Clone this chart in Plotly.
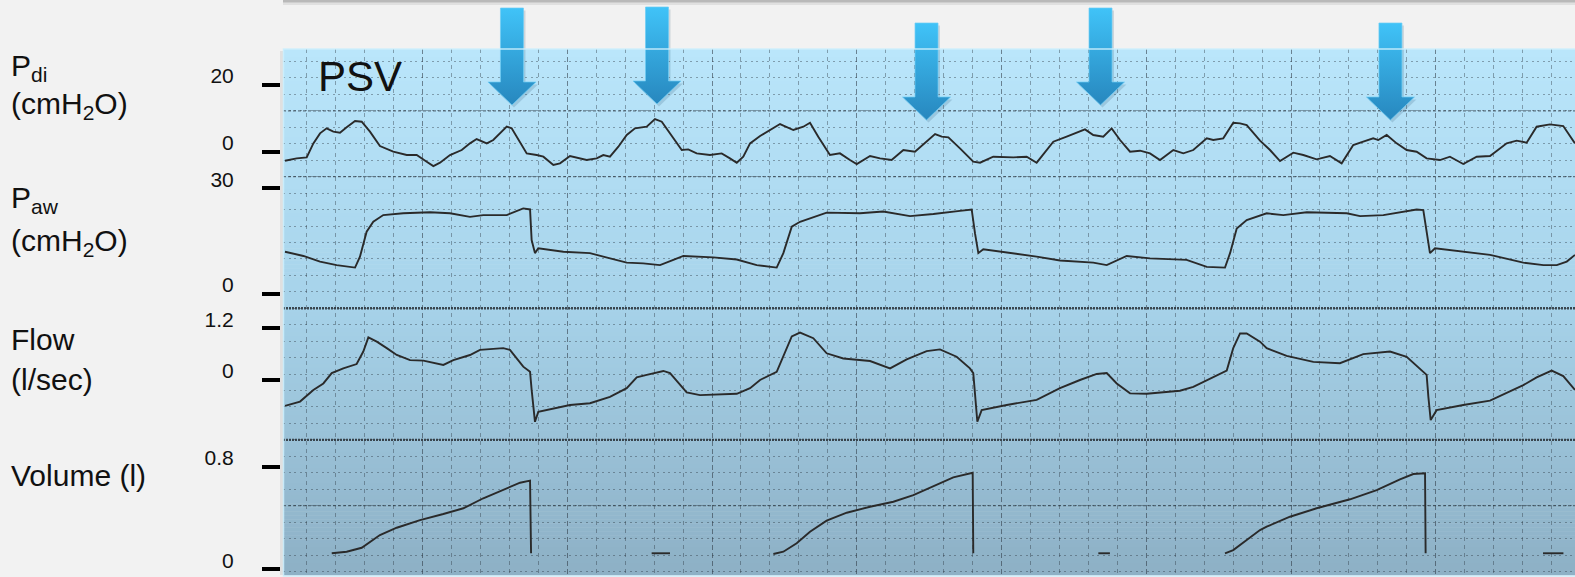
import plotly.graph_objects as go

W, H = 1575, 577

# ---------------- recorded waveforms (time in s) ----------------
pdi_t = [0.050, 0.131, 0.200, 0.246, 0.292, 0.338, 0.384, 0.430, 0.476, 0.534,
         0.580, 0.637, 0.706, 0.798, 0.891, 0.960, 1.029, 1.075, 1.121, 1.190,
         1.271, 1.328, 1.374, 1.444, 1.489, 1.535, 1.582, 1.616, 1.662, 1.720,
         1.789, 1.835, 1.904, 1.950, 2.019, 2.065, 2.134, 2.203, 2.249, 2.295,
         2.353, 2.411, 2.468, 2.549, 2.606, 2.653, 2.710, 2.791, 2.836, 2.894,
         2.986, 3.067, 3.124, 3.171, 3.216, 3.263, 3.332, 3.401, 3.470, 3.562,
         3.631, 3.677, 3.734, 3.815, 3.884, 3.953, 4.000, 4.092, 4.161, 4.241,
         4.322, 4.402, 4.483, 4.541, 4.587, 4.633, 4.713, 4.805, 4.852, 4.943,
         5.082, 5.174, 5.243, 5.312, 5.358, 5.450, 5.542, 5.577, 5.634, 5.703,
         5.761, 5.819, 5.888, 5.957, 6.026, 6.095, 6.187, 6.256, 6.325, 6.418,
         6.463, 6.532, 6.601, 6.648, 6.694, 6.786, 6.855, 6.924, 7.016, 7.085,
         7.177, 7.269, 7.350, 7.430, 7.499, 7.568, 7.603, 7.661, 7.730, 7.799,
         7.868, 7.937, 8.029, 8.098, 8.190, 8.283, 8.375, 8.490, 8.559, 8.628,
         8.697, 8.789, 8.881, 8.962]
pdi_v = [-2.7, -2.0, -1.7, 2.5, 5.5, 7.0, 6.0, 5.7, 7.3, 9.2,
         9.0, 6.0, 1.7, 0.0, -1.0, -1.0, -3.0, -4.3, -3.3, -1.0,
         0.5, 2.5, 3.8, 2.5, 3.5, 5.5, 7.5, 7.0, 3.5, -0.5,
         -1.0, -1.5, -4.0, -3.5, -1.3, -1.7, -2.5, -2.0, -1.0, -1.5,
         1.5, 5.0, 7.0, 7.5, 9.8, 9.0, 5.5, 0.5, 0.7, -0.5,
         -1.0, -0.5, -2.0, -3.3, -1.5, 2.5, 4.7, 6.5, 8.3, 6.5,
         7.5, 8.7, 4.5, -1.0, -0.5, -2.5, -3.7, -1.3, -2.0, -2.5,
         0.5, 0.0, 3.0, 5.3, 4.5, 4.3, 1.0, -3.0, -3.3, -1.5,
         -1.7, -1.5, -3.3, 0.5, 3.0, 4.5, 6.0, 6.7, 5.0, 4.5,
         7.0, 3.5, 0.0, 0.3, -0.5, -2.5, 0.5, -0.5, 0.5, 4.0,
         3.5, 4.0, 8.7, 8.5, 8.0, 3.3, 0.5, -2.8, -0.3, -1.0,
         -2.3, -1.3, -3.5, 2.0, 3.0, 4.0, 3.5, 5.0, 2.5, 0.5,
         0.0, -2.0, -2.5, -1.5, -3.7, -1.5, -1.3, 2.5, 3.3, 2.7,
         7.5, 8.2, 7.7, 2.5]

paw_t = [0.050, 0.177, 0.292, 0.407, 0.534, 0.568, 0.614, 0.660, 0.729, 0.867,
         1.052, 1.190, 1.328, 1.420, 1.582, 1.696, 1.743, 1.754, 1.777, 1.800,
         1.973, 2.157, 2.249, 2.411, 2.525, 2.641, 2.733, 2.802, 3.009, 3.171,
         3.309, 3.401, 3.447, 3.493, 3.551, 3.608, 3.792, 4.022, 4.183, 4.368,
         4.529, 4.713, 4.794, 4.817, 4.840, 4.874, 5.059, 5.243, 5.404, 5.634,
         5.727, 5.865, 6.026, 6.279, 6.418, 6.544, 6.579, 6.625, 6.694, 6.832,
         6.947, 7.109, 7.385, 7.477, 7.638, 7.799, 7.868, 7.914, 7.937, 7.960,
         7.995, 8.190, 8.375, 8.605, 8.744, 8.836, 8.905, 8.962]
paw_v = [12.0, 10.8, 9.2, 8.2, 7.5, 10.6, 17.7, 20.5, 22.4, 22.9,
         23.2, 22.9, 21.9, 22.4, 22.4, 24.3, 24.0, 15.3, 11.6, 13.0,
         12.0, 11.6, 10.6, 8.9, 8.7, 8.2, 9.7, 10.8, 10.4, 9.8,
         8.2, 7.7, 7.5, 11.6, 19.1, 20.5, 23.1, 22.9, 23.4, 22.1,
         22.7, 23.6, 24.0, 17.2, 11.6, 12.7, 11.7, 10.6, 9.5, 8.9,
         8.2, 10.8, 10.1, 9.7, 7.7, 7.5, 11.6, 18.6, 21.0, 22.9,
         22.4, 23.2, 22.9, 22.1, 22.4, 23.4, 24.0, 23.8, 17.2, 11.6,
         13.0, 12.0, 11.1, 8.9, 8.2, 8.2, 9.2, 11.1]

flow_t = [0.050, 0.154, 0.246, 0.315, 0.373, 0.453, 0.545, 0.591, 0.626, 0.684,
          0.753, 0.822, 0.914, 1.006, 1.144, 1.213, 1.328, 1.397, 1.558, 1.604,
          1.696, 1.743, 1.754, 1.777, 1.800, 1.904, 2.019, 2.157, 2.295, 2.411,
          2.480, 2.549, 2.664, 2.710, 2.825, 2.917, 3.171, 3.263, 3.332, 3.447,
          3.493, 3.551, 3.608, 3.700, 3.792, 3.907, 4.092, 4.230, 4.345, 4.483,
          4.575, 4.690, 4.782, 4.805, 4.833, 4.863, 5.036, 5.243, 5.404, 5.542,
          5.658, 5.727, 5.796, 5.888, 6.003, 6.233, 6.325, 6.463, 6.556, 6.601,
          6.648, 6.694, 6.786, 6.832, 6.970, 7.154, 7.338, 7.499, 7.684, 7.799,
          7.891, 7.937, 7.949, 7.965, 8.006, 8.190, 8.375, 8.605, 8.697, 8.801,
          8.881, 8.962]
flow_v = [-0.60, -0.50, -0.23, -0.08, 0.16, 0.27, 0.37, 0.66, 0.99, 0.89,
          0.74, 0.58, 0.46, 0.45, 0.35, 0.46, 0.58, 0.70, 0.74, 0.70,
          0.31, 0.19, -0.23, -0.97, -0.74, -0.66, -0.58, -0.54, -0.39, -0.19,
          0.06, 0.12, 0.21, 0.16, -0.29, -0.35, -0.32, -0.19, 0.00, 0.19,
          0.54, 1.01, 1.10, 0.97, 0.62, 0.50, 0.44, 0.27, 0.48, 0.67,
          0.71, 0.54, 0.27, 0.16, -0.97, -0.70, -0.58, -0.46, -0.19, 0.00,
          0.14, 0.16, -0.08, -0.31, -0.32, -0.25, -0.16, 0.06, 0.22, 0.74,
          1.08, 1.08, 0.89, 0.74, 0.56, 0.42, 0.39, 0.60, 0.66, 0.54,
          0.27, 0.12, -0.39, -0.93, -0.70, -0.58, -0.48, -0.12, 0.06, 0.22,
          0.09, -0.23]

# volume: three inspiratory ramps plus the short marks between breaths
vol_t = [0.373, 0.476, 0.580, 0.706, 0.822, 0.983, 1.144, 1.282, 1.420, 1.582,
         1.674, 1.743, 1.750, None, 2.583, 2.710, None,
         3.424, 3.493, 3.585, 3.677, 3.792, 3.931, 4.092, 4.253, 4.391, 4.529,
         4.667, 4.801, 4.805, None, 5.669, 5.749, None,
         6.544, 6.601, 6.694, 6.786, 6.832, 6.993, 7.177, 7.408, 7.592, 7.753,
         7.845, 7.926, 7.930, None, 8.741, 8.882]
vol_v = [0.125, 0.137, 0.168, 0.267, 0.324, 0.384, 0.431, 0.476, 0.554, 0.632,
         0.675, 0.691, 0.125, None, 0.125, 0.125, None,
         0.119, 0.137, 0.203, 0.293, 0.379, 0.441, 0.488, 0.527, 0.579, 0.650,
         0.717, 0.753, 0.125, None, 0.125, 0.125, None,
         0.125, 0.150, 0.228, 0.306, 0.332, 0.410, 0.476, 0.546, 0.618, 0.702,
         0.743, 0.749, 0.125, None, 0.125, 0.125]

# axis ticks per channel
pdi_ticks = [0, 20]
paw_ticks = [0, 30]
flow_ticks = [0, 1.2]
vol_ticks = [0, 0.8]
flow_ticktext = ["0", "1.2"]
vol_ticktext = ["0", "0.8"]

# arrows marking diaphragm efforts (time, tip height in px from top)
arrow_t = [1.618, 2.620, 4.482, 5.684, 7.687]
arrow_tip = [105, 104, 120, 105, 120]

# ---------------- geometry ----------------
PX_PER_S = 144.75
T_ORIGIN_PX = 277.75          # pixel column of t = 0
PANEL_L, PANEL_T, PANEL_B = 283, 49, 575
AXIS_PX = 280


def t_at(px):
    return (px - T_ORIGIN_PX) / PX_PER_S


def py(p):                     # pixel row -> paper fraction
    return 1 - p / H


def channel_range(v_a, p_a, v_b, p_b):
    scale = (p_a - p_b) / (v_b - v_a)
    return [v_a + (p_a - PANEL_B) / scale, v_a + (p_a - PANEL_T) / scale]


FONT = "Liberation Sans, Arial, Helvetica, sans-serif"
LINE = dict(color="#2a2a2a", width=1.9)

fig = go.Figure()

# arrows + shadow strip live on a full-canvas overlay (x2 / y6)
for t, tip in zip(arrow_t, arrow_tip):
    top = tip - 97
    shoulder = tip - 23
    hs, hh = 11.5 / PX_PER_S, 24 / PX_PER_S
    xs = [t - hs, t + hs, t + hs, t + hh, t, t - hh, t - hs, t - hs]
    ys = [top, top, shoulder, shoulder, tip, shoulder, shoulder, top]
    off = 2 / PX_PER_S
    fig.add_trace(go.Scatter(x=[x + off for x in xs], y=[y + 2.5 for y in ys],
                             fill="toself", fillcolor="rgba(20,60,95,0.16)",
                             mode="lines", line=dict(width=0),
                             xaxis="x2", yaxis="y6", hoverinfo="skip",
                             showlegend=False))
    fig.add_trace(go.Scatter(x=xs, y=ys, fill="toself",
                             fillgradient=dict(type="vertical",
                                               colorscale=[[0, "#40c3f8"], [1, "#2787be"]],
                                               start=top, stop=tip),
                             mode="lines", line=dict(width=1, color="rgba(110,205,245,0.7)"),
                             xaxis="x2", yaxis="y6", hoverinfo="skip",
                             showlegend=False))

# waveforms
fig.add_trace(go.Scatter(x=pdi_t, y=pdi_v, mode="lines", line=LINE,
                         xaxis="x", yaxis="y2", showlegend=False))
fig.add_trace(go.Scatter(x=paw_t, y=paw_v, mode="lines", line=LINE,
                         xaxis="x", yaxis="y3", showlegend=False))
fig.add_trace(go.Scatter(x=flow_t, y=flow_v, mode="lines", line=LINE,
                         xaxis="x", yaxis="y4", showlegend=False))
fig.add_trace(go.Scatter(x=vol_t, y=vol_v, mode="lines", line=LINE,
                         connectgaps=False, xaxis="x", yaxis="y5", showlegend=False))

shapes = []

# panel background: vertical gradient, light cyan to grey blue
stops = [(49, (186, 230, 251)), (300, (167, 211, 234)), (575, (141, 176, 197))]
n_bands = 132
band = (PANEL_B - PANEL_T) / n_bands
for i in range(n_bands):
    y0 = PANEL_T + i * band
    yc = y0 + band / 2
    for (pa, ca), (pb, cb) in zip(stops[:-1], stops[1:]):
        if pa <= yc <= pb:
            f = (yc - pa) / (pb - pa)
            c = tuple(round(ca[k] + (cb[k] - ca[k]) * f) for k in range(3))
            break
    shapes.append(dict(type="rect", xref="paper", yref="paper", layer="below",
                       x0=PANEL_L / W, x1=1, y0=py(y0 + band + 0.6), y1=py(y0),
                       fillcolor="rgb(%d,%d,%d)" % c, line=dict(width=0)))

# panel drop shadow on the left and light rim
shapes.append(dict(type="line", xref="paper", yref="paper", layer="below",
                   x0=(PANEL_L - 1.5) / W, x1=(PANEL_L - 1.5) / W,
                   y0=py(PANEL_B), y1=py(PANEL_T + 2),
                   line=dict(color="rgba(0,0,0,0.07)", width=3)))
shapes.append(dict(type="rect", xref="paper", yref="paper", layer="above",
                   x0=(PANEL_L + 0.5) / W, x1=1.01, y0=py(PANEL_B + 1), y1=py(PANEL_T),
                   line=dict(color="rgba(205,238,252,0.9)", width=1.5)))

# heavier channel separators
separators = [
    (110.85, "rgba(40,50,60,0.62)", 1.4, "3px,2px"),
    (176.65, "rgba(40,50,60,0.62)", 1.4, "3px,2px"),
    (308.25, "rgba(35,42,48,0.82)", 2.4, "2px,1px"),
    (439.85, "rgba(35,42,48,0.82)", 2.4, "2px,1px"),
    (505.65, "rgba(40,50,60,0.58)", 1.4, "3px,2px"),
]
for yy, col, wd, dsh in separators:
    shapes.append(dict(type="line", xref="paper", yref="y", layer="between",
                       x0=PANEL_L / W, x1=1, y0=yy, y1=yy,
                       line=dict(color=col, width=wd, dash=dsh)))

# edge of the box sitting above the chart
shapes.append(dict(type="rect", xref="paper", yref="paper", layer="above",
                   x0=PANEL_L / W, x1=1.01, y0=py(2.5), y1=1.01,
                   fillcolor="#b9b9b9", line=dict(width=0)))
shapes.append(dict(type="line", xref="paper", yref="paper", layer="above",
                   x0=PANEL_L / W, x1=1, y0=py(3.8), y1=py(3.8),
                   line=dict(color="rgba(0,0,0,0.07)", width=2.5)))

annotations = []


def label(text, x_px, yc_px, size):
    annotations.append(dict(text=text, xref="paper", yref="paper",
                            x=x_px / W, y=py(yc_px), xanchor="left", yanchor="middle",
                            showarrow=False, align="left",
                            font=dict(family=FONT, size=size, color="#111111")))


TITLE_SIZE = 30
label("P<sub>di</sub>", 9, 67, TITLE_SIZE)
label("(cmH<sub>2</sub>O)", 9, 105, TITLE_SIZE)
label("P<sub>aw</sub>", 9, 200, TITLE_SIZE)
label("(cmH<sub>2</sub>O)", 9, 242, TITLE_SIZE)
label("Flow", 9, 339, TITLE_SIZE)
label("(l/sec)", 9, 379, TITLE_SIZE)
label("Volume (l)", 9, 475, TITLE_SIZE)
label("PSV", 316, 76, 42)


def channel_axis(rng, vals, text=None):
    return dict(overlaying="y", anchor="free", position=AXIS_PX / W, side="left",
                range=rng, tickmode="array", tickvals=vals,
                ticktext=text if text else [str(v) for v in vals],
                ticks="outside", ticklen=18, tickwidth=3.5, tickcolor="#000000",
                ticklabelshift=-9, ticklabelstandoff=24,
                tickfont=dict(family=FONT, size=21, color="#111111"),
                showgrid=False, zeroline=False, showline=False, fixedrange=True)


fig.update_layout(
    width=W, height=H,
    margin=dict(l=0, r=0, t=0, b=0),
    paper_bgcolor="#f2f2f2",
    plot_bgcolor="rgba(0,0,0,0)",
    shapes=shapes,
    annotations=annotations,
    xaxis=dict(domain=[PANEL_L / W, 1], range=[t_at(PANEL_L), t_at(W)],
               anchor="y", showticklabels=False, ticks="", zeroline=False,
               showline=False, tick0=0, dtick=1, showgrid=True,
               gridcolor="rgba(40,50,60,0.55)", gridwidth=1.4, griddash="5px,3px",
               minor=dict(dtick=0.2, showgrid=True, gridcolor="rgba(40,50,60,0.40)",
                          gridwidth=1.2, griddash="4px,4px")),
    yaxis=dict(domain=[py(PANEL_B), py(PANEL_T)], range=[PANEL_B, PANEL_T],
               anchor="x", showticklabels=False, ticks="", zeroline=False,
               showline=False, tickmode="linear", tick0=61.5, dtick=16.45,
               showgrid=True, gridcolor="rgba(40,50,60,0.40)", gridwidth=1.2,
               griddash="2px,3.5px"),
    yaxis2=channel_axis(channel_range(0, 151.7, 20, 85), pdi_ticks),
    yaxis3=channel_axis(channel_range(0, 294, 30, 188.3), paw_ticks),
    yaxis4=channel_axis(channel_range(0, 380, 1.2, 328.3), flow_ticks, flow_ticktext),
    yaxis5=channel_axis(channel_range(0, 569.3, 0.8, 466.7), vol_ticks, vol_ticktext),
    xaxis2=dict(domain=[0, 1], range=[t_at(0), t_at(W)], anchor="y6", visible=False,
                fixedrange=True),
    yaxis6=dict(domain=[0, 1], range=[H, 0], anchor="x2", visible=False,
                fixedrange=True),
)

fig.write_html("out.html")
